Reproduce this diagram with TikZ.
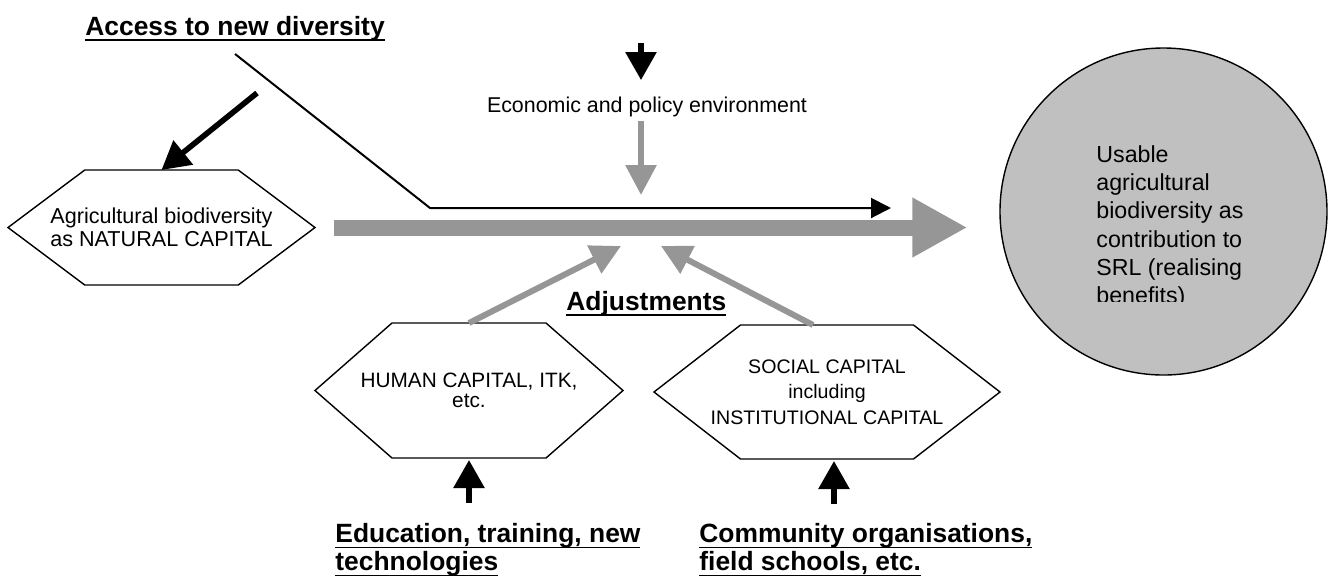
\documentclass[tikz,border=0pt]{standalone}
\usepackage{fontspec}
\setmainfont{Liberation Sans}
\usetikzlibrary{arrows.meta,calc}

\definecolor{flowgrey}{RGB}{150,150,150}
\definecolor{discgrey}{RGB}{192,192,192}

% word-processor style underline, crossing the descenders
\newcommand\uword[1]{\setbox0\hbox{#1}\rlap{\rule[-2.9pt]{\wd0}{0.9pt}}\box0}

\tikzset{
  capbox/.style={inner sep=0pt, outer sep=0pt, align=center},
  heading/.style={font=\fontsize{13.2}{14}\selectfont\bfseries, inner sep=0pt},
  blackarrow/.style={line width=2.8pt, -{Triangle[width=15pt,length=14pt]}},
  greyarrow/.style={flowgrey, line width=3pt, -{Triangle[width=15pt,length=15pt]}},
}

\begin{document}
\begin{tikzpicture}[x=0.5pt,y=-0.5pt]
	\useasboundingbox (0,0) rectangle (1335,585);

	\node[capbox, minimum width=153.5pt, minimum height=57.5pt, font=\fontsize{10.8}{11.5}\selectfont] (agri) at (161.5,227.5) {Agricultural biodiversity\\as NATURAL CAPITAL};
	\node[capbox, minimum width=154pt, minimum height=67.5pt, font=\fontsize{10.4}{10}\selectfont] (human) at (469,390.5) {HUMAN CAPITAL, ITK,\\etc.};
	\node[capbox, minimum width=173pt, minimum height=67pt, font=\fontsize{9.8}{12.75}\selectfont] (social) at (827,392) {SOCIAL CAPITAL\\including\\INSTITUTIONAL CAPITAL};
	\foreach \n in {agri,human,social}
		\draw[line width=0.7pt] (\n.west) -- ($(\n.north west)!.25!(\n.north east)$) -- ($(\n.north west)!.75!(\n.north east)$) -- (\n.east) -- ($(\n.south west)!.75!(\n.south east)$) -- ($(\n.south west)!.25!(\n.south east)$) -- cycle;

	\node[circle, draw, line width=0.7pt, fill=discgrey, minimum size=163.5pt, inner sep=0pt] (usable) at (1163.5,211.5) {};
	\begin{scope}
		\clip (1000,48) rectangle (1327,301);
		\node[anchor=north west, inner sep=0pt, align=left, font=\fontsize{11.6}{14.15}\selectfont] (usabletext) at (1096,145) {Usable\\agricultural\\biodiversity as\\contribution to\\SRL (realising\\benefits)};
	\end{scope}

	\node[heading, anchor=base west] (access) at (85,35) {\uword{Access to new diversity}};
	\node[heading, anchor=base west] (adjust) at (566,310) {\uword{Adjustments}};
	\node[heading, anchor=north west, align=left] (educ) at (335,523) {\uword{Education, training, new}\\\uword{technologies}};
	\node[heading, anchor=north west, align=left] (comm) at (699,523) {\uword{Community organisations,}\\\uword{field schools, etc.}};
	\node[font=\fontsize{10.7}{12}\selectfont, inner sep=2pt, anchor=base] (econ) at (647,112) {Economic and policy environment};

	\coordinate (newin) at (257,93);
	\coordinate (bend) at (430,208);
	\coordinate (newtip) at (891,208);
	\coordinate (policyin) at (641,43);
	\coordinate (policytip) at (641,195);
	\coordinate (adjleft) at (621,246);
	\coordinate (adjright) at (661,246);

	% main flow
	\draw[flowgrey, line width=8pt, shorten <=9.5pt, shorten >=16pt, -{Triangle[width=28pt,length=27.5pt]}] (agri.east) -- (agri.east -| usable.west);
	\draw[line width=1pt, -{Triangle[width=10pt,length=10pt]}] ([yshift=-9.5pt]access.base) -- (bend) -- (newtip);

	\draw[blackarrow] (newin) -- (agri.north);
	\draw[blackarrow, shorten >=6pt] (policyin) -- (policyin |- econ.north);
	\draw[greyarrow] (policyin |- econ.south) -- (policytip);
	\draw[greyarrow] (human.north) -- (adjleft);
	\draw[greyarrow] ([xshift=-7pt]social.north) -- (adjright);
	\draw[blackarrow, shorten >=1pt] ([yshift=-22.5pt]human.south) -- (human.south);
	\draw[blackarrow, shorten >=1pt] ([xshift=3.5pt,yshift=-22.5pt]social.south) -- ([xshift=3.5pt]social.south);
\end{tikzpicture}
\end{document}
